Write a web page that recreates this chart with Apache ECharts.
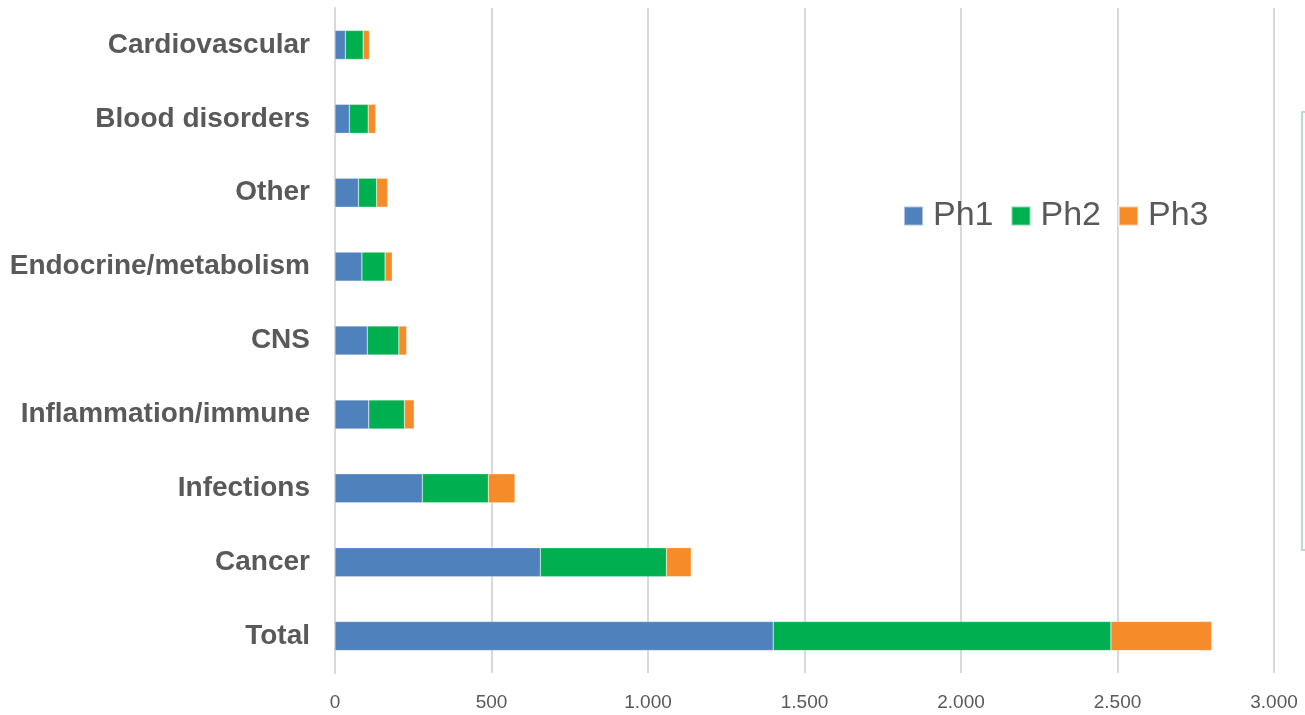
<!DOCTYPE html>
<html>
<head>
<meta charset="utf-8">
<script src="https://cdn.jsdelivr.net/npm/echarts@6/dist/echarts.min.js"></script>
<style>
html,body{margin:0;padding:0;background:#fff;}
#main{width:1305px;height:715px;}
</style>
</head>
<body>
<div id="main"></div>
<script>
// categories, top to bottom
var areas = ['Cardiovascular', 'Blood disorders', 'Other', 'Endocrine/metabolism', 'CNS',
	'Inflammation/immune', 'Infections', 'Cancer', 'Total'];
var ph1 = [33, 46, 75, 86, 103, 108, 279, 656, 1400];
var ph2 = [57, 60, 58, 74, 101, 114, 211, 403, 1079];
var ph3 = [20, 24, 35, 23, 25, 31, 85, 79, 322];
var xTicks = [0, 500, 1000, 1500, 2000, 2500, 3000];

var myChart = echarts.init(document.getElementById('main'));

function fmt(v){
	return String(v).replace(/\B(?=(\d{3})+(?!\d))/g, '.');
}

var barStyle = function(c){
	return {color: c, borderColor: 'rgba(255,255,255,0.5)', borderWidth: 0.5};
};

var option = {
	animation: false,
	backgroundColor: '#ffffff',
	legend: {
		data: ['Ph1', 'Ph2', 'Ph3'],
		left: 903,
		top: 199,
		padding: 0,
		icon: 'rect',
		itemWidth: 19,
		itemHeight: 19,
		itemGap: 17,
		textStyle: {fontFamily: 'Liberation Sans, Arial', fontSize: 34, color: '#595959', padding: [0, 0, 0, 5]}
	},
	grid: {
		left: 335,
		right: 31,
		top: 8,
		bottom: 42,
		containLabel: false
	},
	xAxis: {
		type: 'value',
		min: xTicks[0],
		max: xTicks[xTicks.length - 1],
		interval: 500,
		axisLine: {show: false},
		axisTick: {show: false},
		splitLine: {lineStyle: {color: '#d9d9d9', width: 2}},
		axisLabel: {
			fontFamily: 'Liberation Sans, Arial',
			fontSize: 19,
			color: '#595959',
			margin: 20,
			formatter: fmt
		}
	},
	yAxis: {
		type: 'category',
		inverse: true,
		data: areas,
		axisLine: {lineStyle: {color: '#d9d9d9', width: 2}},
		axisTick: {show: false},
		axisLabel: {
			fontFamily: 'Liberation Sans, Arial',
			fontSize: 28,
			fontWeight: 'bold',
			color: '#595959',
			margin: 25
		}
	},
	graphic: [
		{
			type: 'rect',
			shape: {x: 1302, y: 112, width: 12, height: 438},
			style: {fill: '#fdfdfd', stroke: '#b5ddd0', lineWidth: 2},
			silent: true
		}
	],
	series: [
		{name: 'Ph1', type: 'bar', stack: 'all', barWidth: 29, data: ph1, itemStyle: barStyle('#4f81bd')},
		{name: 'Ph2', type: 'bar', stack: 'all', barWidth: 29, data: ph2, itemStyle: barStyle('#00b050')},
		{name: 'Ph3', type: 'bar', stack: 'all', barWidth: 29, data: ph3, itemStyle: barStyle('#f68b2a')}
	]
};
myChart.setOption(option);
</script>
</body>
</html>
